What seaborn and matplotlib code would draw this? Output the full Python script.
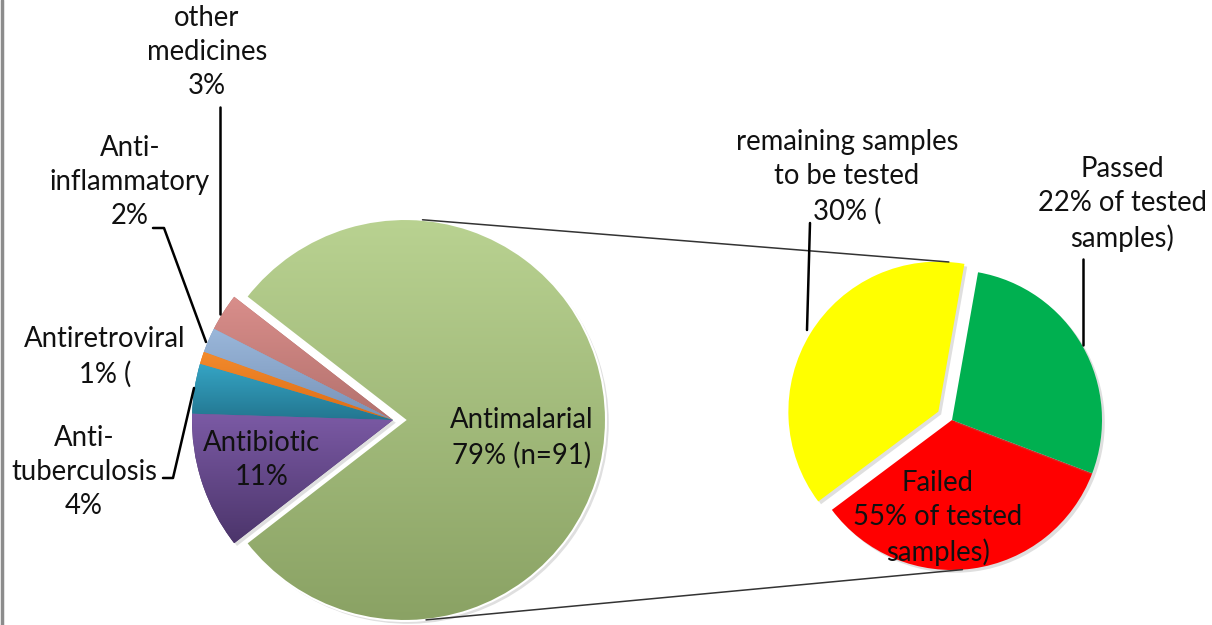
import numpy as np
import matplotlib
matplotlib.use("Agg")
import matplotlib.pyplot as plt
import matplotlib.patheffects as pe
from matplotlib.colors import LinearSegmentedColormap
from matplotlib.patches import Wedge
from matplotlib.lines import Line2D
import seaborn as sns

# left pie: all samples by medicine class (percent)
class_names = ["Antimalarial", "other medicines", "Anti-inflammatory",
               "Antiretroviral", "Anti-tuberculosis", "Antibiotic"]
class_pct = [79, 3, 2, 1, 4, 11]
class_labels = ["Antimalarial\n79% (n=91)", "other\nmedicines\n3%",
                "Anti-\ninflammatory\n2%", "Antiretroviral\n1% (",
                "Anti-\ntuberculosis\n4%", "Antibiotic\n11%"]

# right pie: antimalarial samples (share of the pie as drawn)
status_names = ["remaining", "Failed", "Passed"]
status_share = [38, 34, 28]
status_labels = ["remaining samples\nto be tested\n30% (",
                 "Failed\n55% of tested\nsamples)",
                 "Passed\n22% of tested\nsamples)"]

W, H = 1212, 625
left_grad = [("#b9d291", "#8aa264"), ("#d98e8b", "#b3716d"),
             ("#9ab7da", "#7893b8"), ("#f38b2c", "#dc6c16"),
             ("#35a5c5", "#237690"), ("#7b5aa5", "#4c356b")]
right_cols = ["#ffff00", "#ff0000", "#00b050"]


def P(x, y):
    # pixel position measured from the top-left corner -> data coords
    return x, H - y


def grad_fill(ax, wedge, c_top, c_bot):
    bb = wedge.get_path().get_extents()
    cmap = LinearSegmentedColormap.from_list("g", [c_bot, c_top])
    img = ax.imshow(np.linspace(0, 1, 256).reshape(-1, 1), cmap=cmap,
                    origin="lower", aspect="auto", zorder=3,
                    extent=[bb.x0, bb.x1, bb.y0, bb.y1], interpolation="bilinear")
    img.set_clip_path(wedge)


def on_circle(c, r, deg):
    a = np.deg2rad(deg)
    return c[0] + r * np.cos(a), c[1] + r * np.sin(a)


sns.set_theme(style="white")
plt.rcParams["font.family"] = ["Lato", "DejaVu Sans"]

fig = plt.figure(figsize=(W / 100, H / 100), dpi=100)
ax = fig.add_axes([0, 0, 1, 1])

shadow = [pe.SimplePatchShadow(offset=(2, -2), alpha=0.25, shadow_rgbFace="grey"), pe.Normal()]

r_left = 201
c_left = P(393, 420)
start_left = -class_pct[0] * 3.6 / 2
wl, _ = ax.pie(class_pct, center=c_left, radius=r_left, startangle=start_left,
               explode=[12, 0, 0, 0, 0, 0],
               colors=[g[1] for g in left_grad],
               wedgeprops=dict(edgecolor="none", zorder=2))
for w, g in zip(wl, left_grad):
    w.set_path_effects(shadow)
    grad_fill(ax, w, g[0], g[1])
# light bevel round the antimalarial slice
g_w = wl[0]
ax.add_patch(Wedge(g_w.center, g_w.r, g_w.theta1, g_w.theta2, facecolor="none",
                   edgecolor="white", linewidth=1.5, zorder=4))

r_right = 150
c_right = P(952, 420)
wr, _ = ax.pie(status_share, center=c_right, radius=r_right, startangle=80,
               explode=[16, 0, 0], colors=right_cols,
               wedgeprops=dict(edgecolor="none", zorder=2))
for w in wr:
    w.set_path_effects(shadow)

# connector lines between the two pies
g_c = wl[0].center
y_c = wr[0].center
r_c = wr[1].center
for a1, a2, c2 in [(85, 86, y_c), (-84, -86, r_c)]:
    x1, y1 = on_circle(g_c, r_left, a1)
    x2, y2 = on_circle(c2, r_right, a2)
    ax.plot([x1, x2], [y1, y2], color="#333333", lw=1.1, zorder=5)

fs = 19.8
tkw = dict(ha="center", va="center", fontsize=fs, linespacing=1.38, color="#111111", zorder=6)

ax.text(*P(207, 52), class_labels[1], **tkw)
ax.text(*P(130, 182), class_labels[2], **tkw)
ax.text(*P(105, 357), class_labels[3], **tkw)
ax.text(*P(84, 472), class_labels[4], **tkw)
ax.text(*P(262, 460), class_labels[5], **tkw)
ax.text(*P(522, 438), class_labels[0], **tkw)
ax.text(*P(847, 177), status_labels[0], **tkw)
ax.text(*P(1122, 204), status_labels[2], **tkw)
ax.text(*P(938, 518), status_labels[1], **tkw)

# leader lines
leaders = [
    [(220, 107), (220, 314)],
    [(153, 228), (164, 228), (206, 342)],
    [(163, 478), (173, 478), (194, 388)],
    [(810, 223), (807, 330)],
    [(1083, 259), (1083, 345)],
]
for pts in leaders:
    xs, ys = zip(*[P(x, y) for x, y in pts])
    ax.plot(xs, ys, color="black", lw=1.8, zorder=5)

ax.set_xlim(0, W)
ax.set_ylim(0, H)
ax.set_aspect("equal")
ax.axis("off")

fig.add_artist(Line2D([2 / W, 2 / W], [0, 1], color="#8c8c8c", lw=2.5))

fig.savefig("out.png", dpi=100, facecolor="white")
